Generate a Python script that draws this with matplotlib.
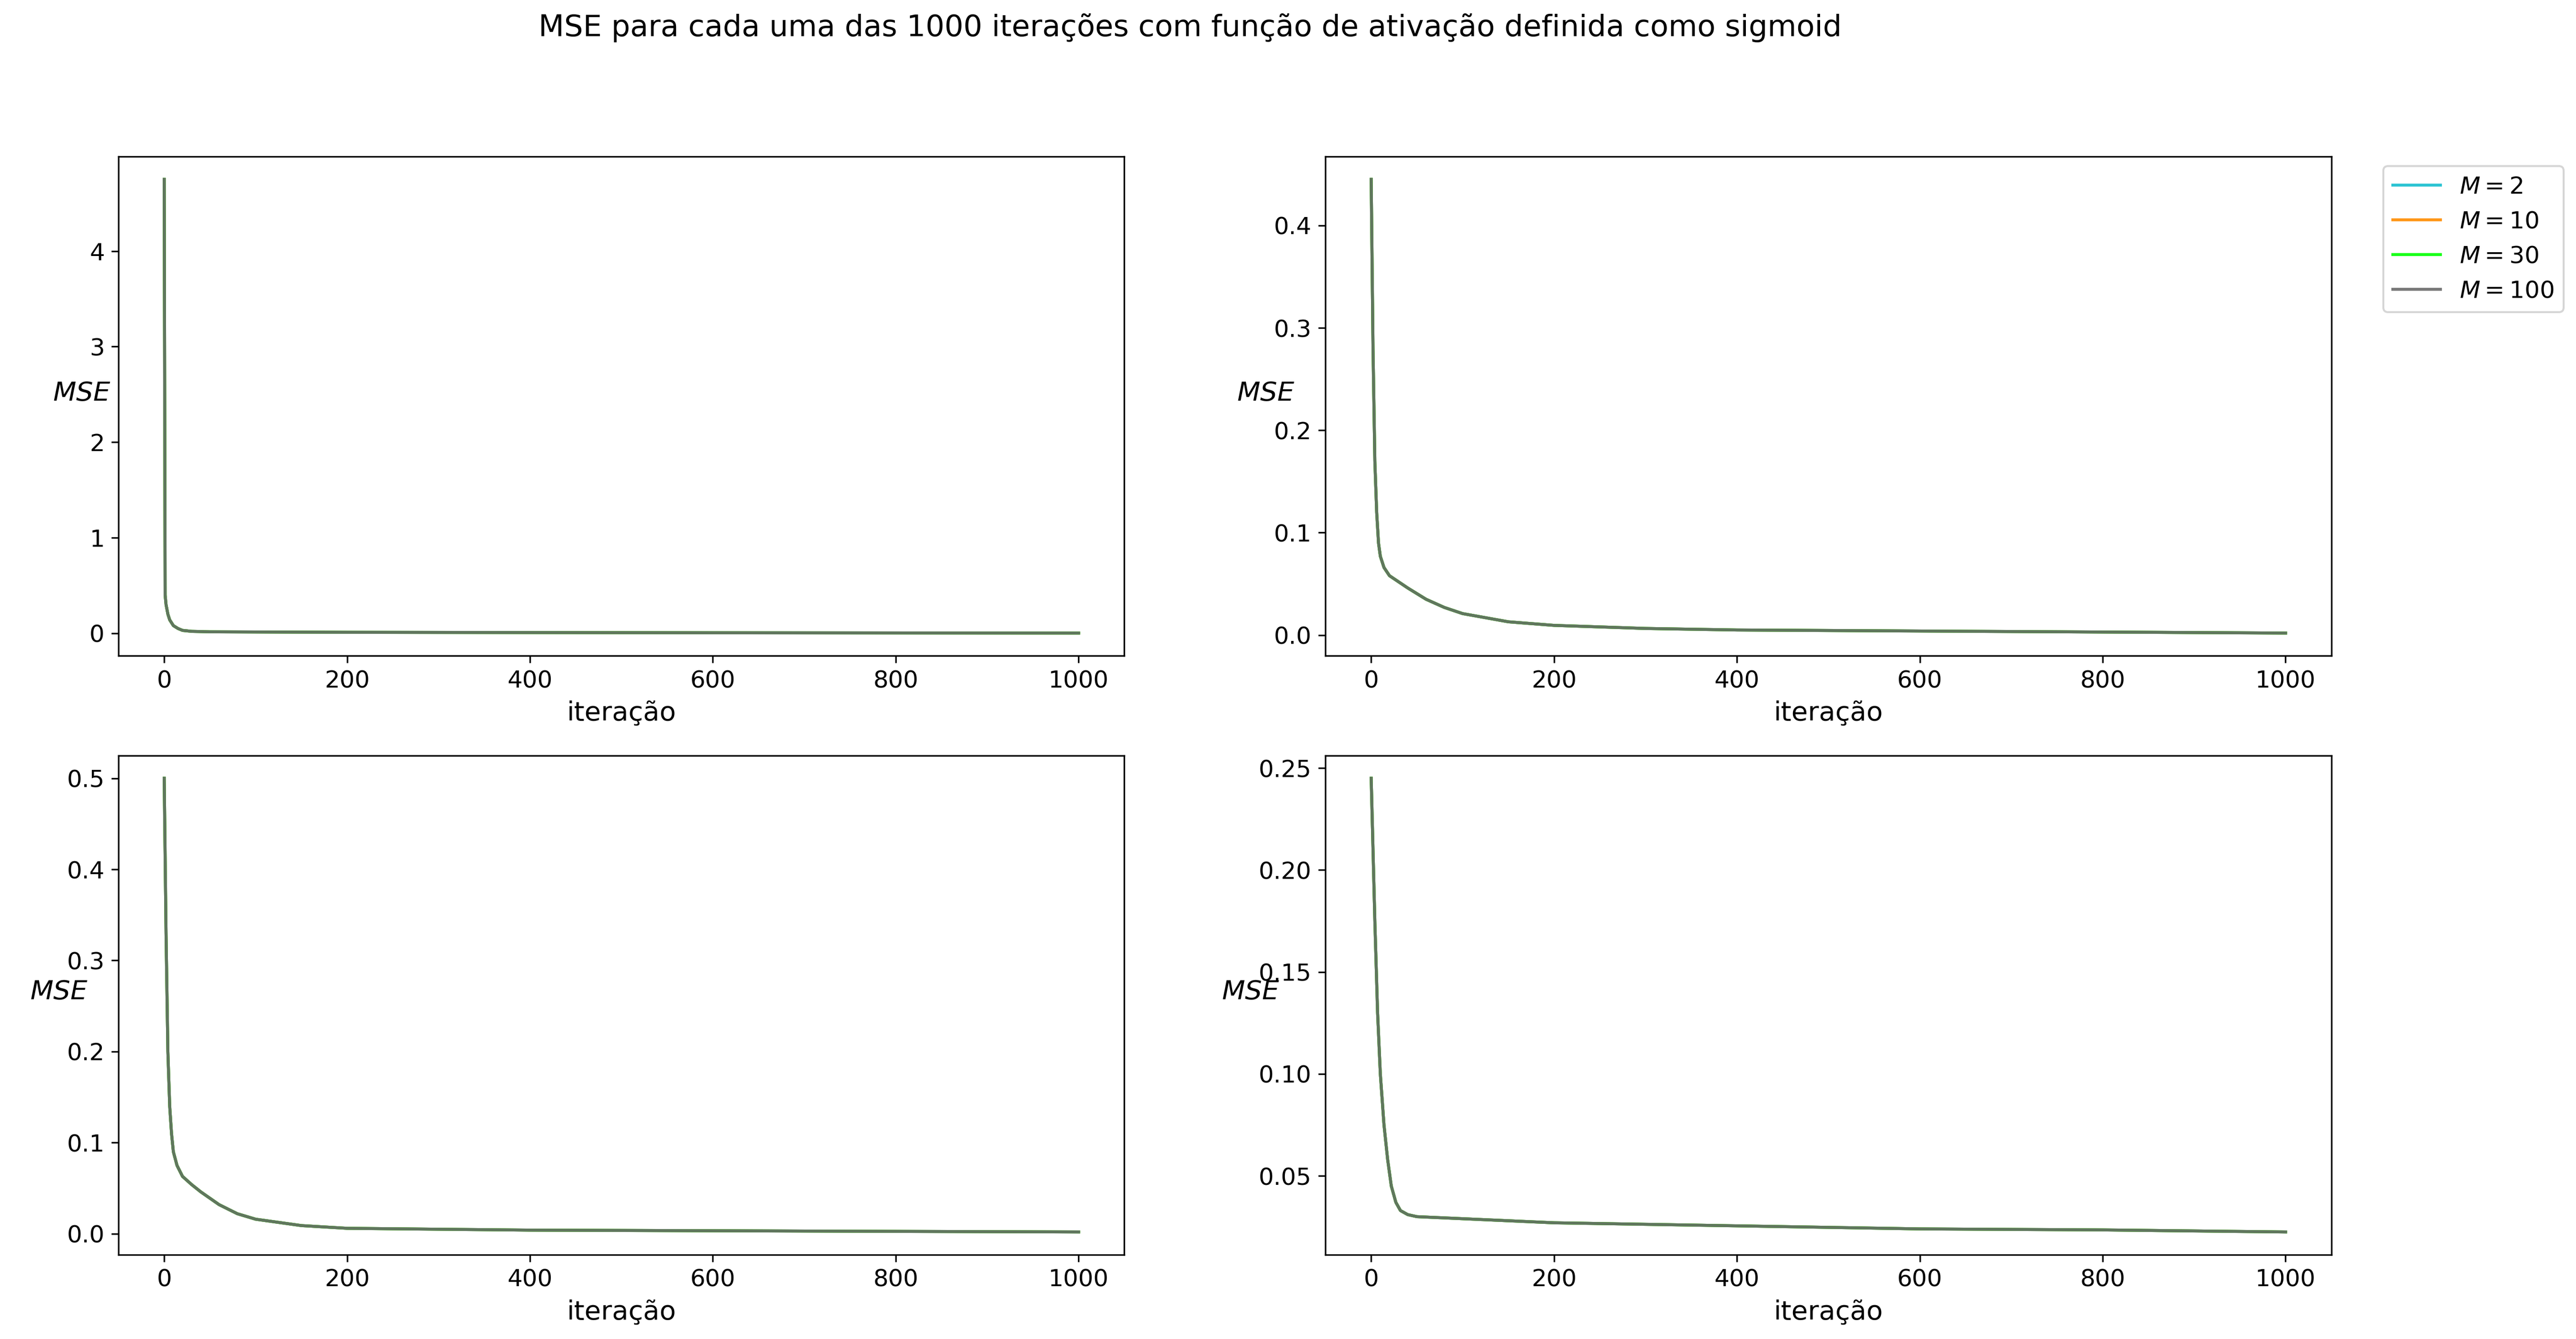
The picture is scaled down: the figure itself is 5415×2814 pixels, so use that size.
import matplotlib
matplotlib.use("Agg")
import matplotlib.pyplot as plt

m_values = [2, 10, 30, 100]
colors = ['#17becf', 'darkorange', 'lime', 'dimgrey']

it1 = [0, 1, 2, 4, 6, 10, 15, 20, 30, 50, 200, 600, 1000]
mse1 = [4.75, 0.4, 0.3, 0.2, 0.14, 0.08, 0.05, 0.03, 0.02, 0.015, 0.01, 0.005, 0.002]
it2 = [0, 2, 4, 6, 8, 10, 14, 20, 30, 40, 60, 80, 100, 150, 200, 300, 400, 600, 800, 1000]
mse2 = [0.445, 0.28, 0.17, 0.12, 0.09, 0.077, 0.066, 0.058, 0.052, 0.046, 0.035, 0.027, 0.021, 0.013, 0.0095, 0.0065, 0.005, 0.004, 0.003, 0.002]
it3 = [0, 2, 4, 6, 8, 10, 14, 20, 30, 40, 60, 80, 100, 150, 200, 400, 1000]
mse3 = [0.5, 0.33, 0.2, 0.14, 0.11, 0.09, 0.075, 0.063, 0.054, 0.046, 0.032, 0.022, 0.016, 0.009, 0.006, 0.004, 0.002]
it4 = [0, 2, 4, 7, 10, 14, 18, 22, 27, 32, 40, 50, 100, 200, 400, 600, 800, 1000]
mse4 = [0.245, 0.21, 0.175, 0.13, 0.1, 0.075, 0.058, 0.045, 0.037, 0.033, 0.031, 0.030, 0.029, 0.027, 0.0255, 0.024, 0.0235, 0.0225]

series = [(it1, mse1), (it2, mse2), (it3, mse3), (it4, mse4)]

fig, axes = plt.subplots(2, 2, figsize=(18.05, 9.38), dpi=300)
fig.subplots_adjust(left=0.046, right=0.905, top=0.883, bottom=0.063, wspace=0.2, hspace=0.2)

for ax, (x, y) in zip(axes.flat, series):
    for m, c in zip(m_values, colors):
        ax.plot(x, y, color=c, label=f'$M = {m}$', alpha=0.9, lw=1.5)
    ax.set_xlabel('iteração', fontsize=13.5)
    ax.set_ylabel('$MSE$', rotation=0, fontsize=13.5)
    ax.tick_params(labelsize=12)

axes[0, 1].legend(bbox_to_anchor=(1.04, 1.005), loc='upper left', fontsize=12)
fig.suptitle('MSE para cada uma das 1000 iterações com função de ativação definida como sigmoid',
             x=0.462, y=0.99, fontsize=15)
fig.savefig('out.png', dpi=300)
